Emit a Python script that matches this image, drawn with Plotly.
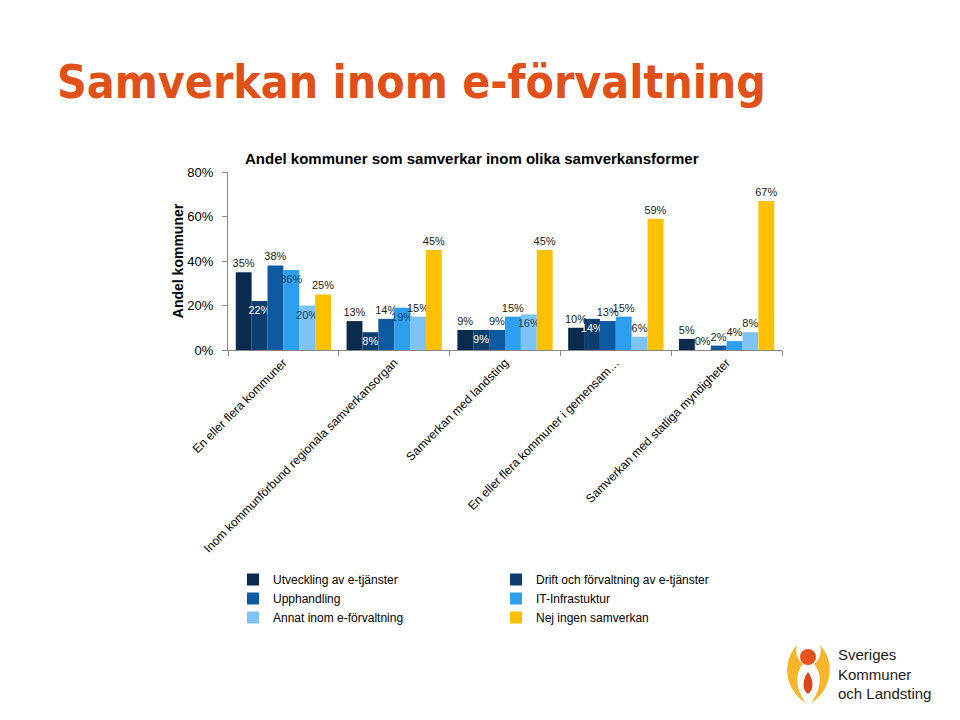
import plotly.graph_objects as go

categories = [
    "En eller flera kommuner",
    "Inom kommunförbund regionala samverkansorgan",
    "Samverkan med landsting",
    "En eller flera kommuner i gemensam…",
    "Samverkan med statliga myndigheter",
]
series_names = [
    "Utveckling av e-tjänster",
    "Drift och förvaltning av e-tjänster",
    "Upphandling",
    "IT-Infrastuktur",
    "Annat inom e-förvaltning",
    "Nej ingen samverkan",
]
utveckling = [35, 13, 9, 10, 5]
drift = [22, 8, 9, 14, 0]
upphandling = [38, 14, 9, 13, 2]
it_infra = [36, 19, 15, 15, 4]
annat = [20, 15, 16, 6, 8]
nej = [25, 45, 45, 59, 67]
y_ticks = [0, 20, 40, 60, 80]

values = [utveckling, drift, upphandling, it_infra, annat, nej]
colors = ["#0B2B4E", "#0C3F6E", "#0D5AA0", "#2E9FEE", "#7EC3F5", "#FFC000"]

positions = [
    ["outside"] * 5,
    ["inside", "inside", "inside", "inside", "outside"],
    ["outside"] * 5,
    ["inside", "inside", "outside", "outside", "outside"],
    ["inside", "outside", "inside", "outside", "outside"],
    ["outside"] * 5,
]
label_colors = {
    0: ["#222222"] * 5,
    1: ["#FFFFFF", "#FFFFFF", "#FFFFFF", "#FFFFFF", "#222222"],
    2: ["#222222"] * 5,
    3: ["#0C3F6E", "#0C3F6E", "#222222", "#222222", "#222222"],
    4: ["#0C3F6E", "#222222", "#0C3F6E", "#222222", "#222222"],
    5: ["#222222"] * 5,
}

FONT = "Liberation Sans, Arial, sans-serif"

fig = go.Figure()
for i, name in enumerate(series_names):
    tf = dict(size=11, color=label_colors[i], family=FONT)
    fig.add_trace(go.Bar(
        name=name,
        x=categories,
        y=values[i],
        marker=dict(color=colors[i], line=dict(width=0)),
        text=[f"{v}%" for v in values[i]],
        textposition=positions[i],
        textangle=0,
        insidetextanchor="end",
        textfont=tf, outsidetextfont=tf, insidetextfont=tf,
        constraintext="none",
        cliponaxis=False,
        hoverinfo="skip",
    ))

# page offset (browser body margin)
OFF = 8
W, H = 960 - OFF, 720 - OFF
L, T = 228 - OFF, 172 - OFF
R = W - (782 - OFF)
B = H - (350 - OFF)
PW, PH = W - L - R, H - T - B


def px2paper(x, y):
    return (x - OFF - L) / PW, (H - B - (y - OFF)) / PH


def path_from(points):
    out = []
    for cmd, *pts in points:
        s = cmd
        for j in range(0, len(pts), 2):
            xx, yy = px2paper(pts[j], pts[j + 1])
            s += f" {xx:.4f},{yy:.4f}"
        out.append(s)
    return " ".join(out) + " Z"


shapes = []
# logo: yellow flames
shapes.append(dict(type="path", xref="paper", yref="paper", layer="above",
                   path=path_from([("M", 797, 645), ("C", 781, 662, 785, 690, 806, 703),
                                   ("C", 796, 690, 794, 674, 803, 664),
                                   ("C", 797, 660, 795, 652, 797, 645)]),
                   fillcolor="#F7B52C", line=dict(width=0)))
shapes.append(dict(type="path", xref="paper", yref="paper", layer="above",
                   path=path_from([("M", 820, 645), ("C", 836, 662, 832, 690, 811, 703),
                                   ("C", 821, 690, 823, 674, 814, 664),
                                   ("C", 820, 660, 822, 652, 820, 645)]),
                   fillcolor="#F7B52C", line=dict(width=0)))
cx, cy = px2paper(808, 657)
rx = 8 / PW
ry = 8 / PH
shapes.append(dict(type="circle", xref="paper", yref="paper", layer="above",
                   x0=cx - rx, x1=cx + rx, y0=cy - ry, y1=cy + ry,
                   fillcolor="#E4531B", line=dict(width=0)))
shapes.append(dict(type="path", xref="paper", yref="paper", layer="above",
                   path=path_from([("M", 808, 672), ("C", 802, 680, 802, 690, 808, 694),
                                   ("C", 814, 690, 814, 680, 808, 672)]),
                   fillcolor="#D9461C", line=dict(width=0)))

annotations = []
tx, ty = px2paper(55, 82)
annotations.append(dict(text="<b>Samverkan inom e-förvaltning</b>", xref="paper", yref="paper",
                        x=tx, y=ty, xanchor="left", yanchor="middle", showarrow=False,
                        font=dict(size=46, color="#E2501A",
                                  family="DejaVu Sans Condensed, Liberation Sans, sans-serif")))
cx2, cy2 = px2paper(243, 158)
annotations.append(dict(text="<b>Andel kommuner som samverkar inom olika samverkansformer</b>",
                        xref="paper", yref="paper", x=cx2, y=cy2, xanchor="left", yanchor="middle",
                        showarrow=False, font=dict(size=15, color="#000000", family=FONT)))
lx, ly = px2paper(836, 674)
annotations.append(dict(text="Sveriges<br>Kommuner<br>och Landsting", xref="paper", yref="paper",
                        x=lx, y=ly, xanchor="left", yanchor="middle", align="left", showarrow=False,
                        font=dict(size=15, color="#1A1A1A", family=FONT)))

legx = (233 - OFF) / W
legy = 1 - (565 - OFF) / H

fig.update_layout(
    width=W, height=H,
    margin=dict(l=L, r=R, t=T, b=B, autoexpand=False),
    paper_bgcolor="#FFFFFF", plot_bgcolor="#FFFFFF",
    barmode="group", bargap=0.14, bargroupgap=0,
    font=dict(family=FONT, size=12, color="#000000"),
    showlegend=True,
    legend=dict(orientation="h", x=legx, y=legy, xanchor="left", yanchor="top",
                xref="container", yref="container",
                entrywidth=218, entrywidthmode="pixels", traceorder="normal",
                font=dict(size=12, color="#000000"), itemclick=False,
                tracegroupgap=0, bgcolor="rgba(0,0,0,0)"),
    xaxis=dict(showline=True, linecolor="#888888", linewidth=1,
               ticks="outside", tickson="boundaries", ticklen=5, tickcolor="#888888",
               tickangle=-45, tickfont=dict(size=12, color="#000000"),
               showgrid=False, zeroline=False),
    yaxis=dict(range=[0, 80], tickvals=y_ticks, ticktext=[f"{v}%" for v in y_ticks],
               showline=True, linecolor="#888888", linewidth=1,
               ticks="outside", ticklen=5, tickcolor="#888888",
               ticklabelstandoff=6,
               tickfont=dict(size=13, color="#000000"),
               showgrid=False, zeroline=False,
               title=dict(text="<b>Andel kommuner</b>", font=dict(size=14, color="#000000"), standoff=0)),
    shapes=shapes,
    annotations=annotations,
)

fig.write_html("out.html")
